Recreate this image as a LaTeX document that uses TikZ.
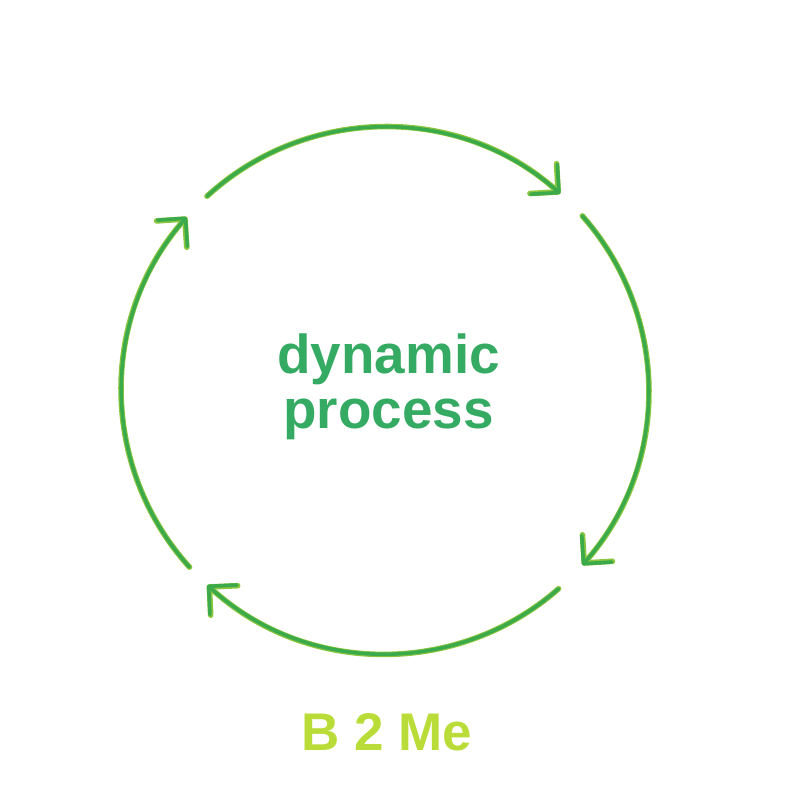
\documentclass[tikz,border=0pt]{standalone}
\usepackage{fontspec}
\setmainfont{Liberation Sans}
\usetikzlibrary{calc,arrows.meta}
\definecolor{ArcGreen}{RGB}{58,170,74}
\definecolor{RimGreen}{RGB}{140,198,63}
\definecolor{TextGreen}{RGB}{52,170,98}
\definecolor{LimeGreen}{RGB}{186,220,56}
\tikzset{%
	% Style of the cycle arcs
	CycleArc/.style={draw=RimGreen,line width=0.14cm,line cap=round,
		-{Straight Barb[length=0.5cm,width=1.0cm,round]},
		postaction={draw=ArcGreen,line width=0.09cm}},
	% Style of the centre text
	Title/.style={font=\fontsize{39}{39}\selectfont\bfseries,text=TextGreen,align=center,inner sep=0},
	% Style of the caption
	Caption/.style={font=\fontsize{37.7}{37.7}\selectfont\bfseries,text=LimeGreen,inner sep=0},
}
\begin{document}
\begin{tikzpicture}[x=0.025cm,y=-0.025cm]
\useasboundingbox (0,0) rectangle (800,800);

%~~~~~~~~~~~~~~~~~~~~~~~~~~~~~~~~~~~~~~~~~~~~~~~~~~
% Set Nodes
%~~~~~~~~~~~~~~~~~~~~~~~~~~~~~~~~~~~~~~~~~~~~~~~~~~
\coordinate (Center) at (385, 390.5);
\node[Title, anchor=base] (Process) at (388.5, 428) {dynamic\\process};
\node[Caption, anchor=base] (Brand) at (387, 750) {B 2 Me};

\coordinate (S1) at ($ (Center) + (-132.5:263.5) $);
\coordinate (S2) at ($ (Center) + (-41.5:263.5) $);
\coordinate (S3) at ($ (Center) + (48.8:263.5) $);
\coordinate (S4) at ($ (Center) + (137.9:263.5) $);

%~~~~~~~~~~~~~~~~~~~~~~~~~~~~~~~~~~~~~~~~~~~~~~~~~~
% Set Arcs
%~~~~~~~~~~~~~~~~~~~~~~~~~~~~~~~~~~~~~~~~~~~~~~~~~~
%Arc on top, left to right
\draw[CycleArc] (S1) arc[start angle=-132.5, end angle=-48.3, radius=263.5];

%Arc on the right, top to bottom
\draw[CycleArc] (S2) arc[start angle=-41.5, end angle=41.5, radius=263.5];

%Arc at the bottom, right to left
\draw[CycleArc] (S3) arc[start angle=48.8, end angle=132.4, radius=263.5];

%Arc on the left, bottom to top
\draw[CycleArc] (S4) arc[start angle=137.9, end angle=221.2, radius=263.5];

\end{tikzpicture}
\end{document}
